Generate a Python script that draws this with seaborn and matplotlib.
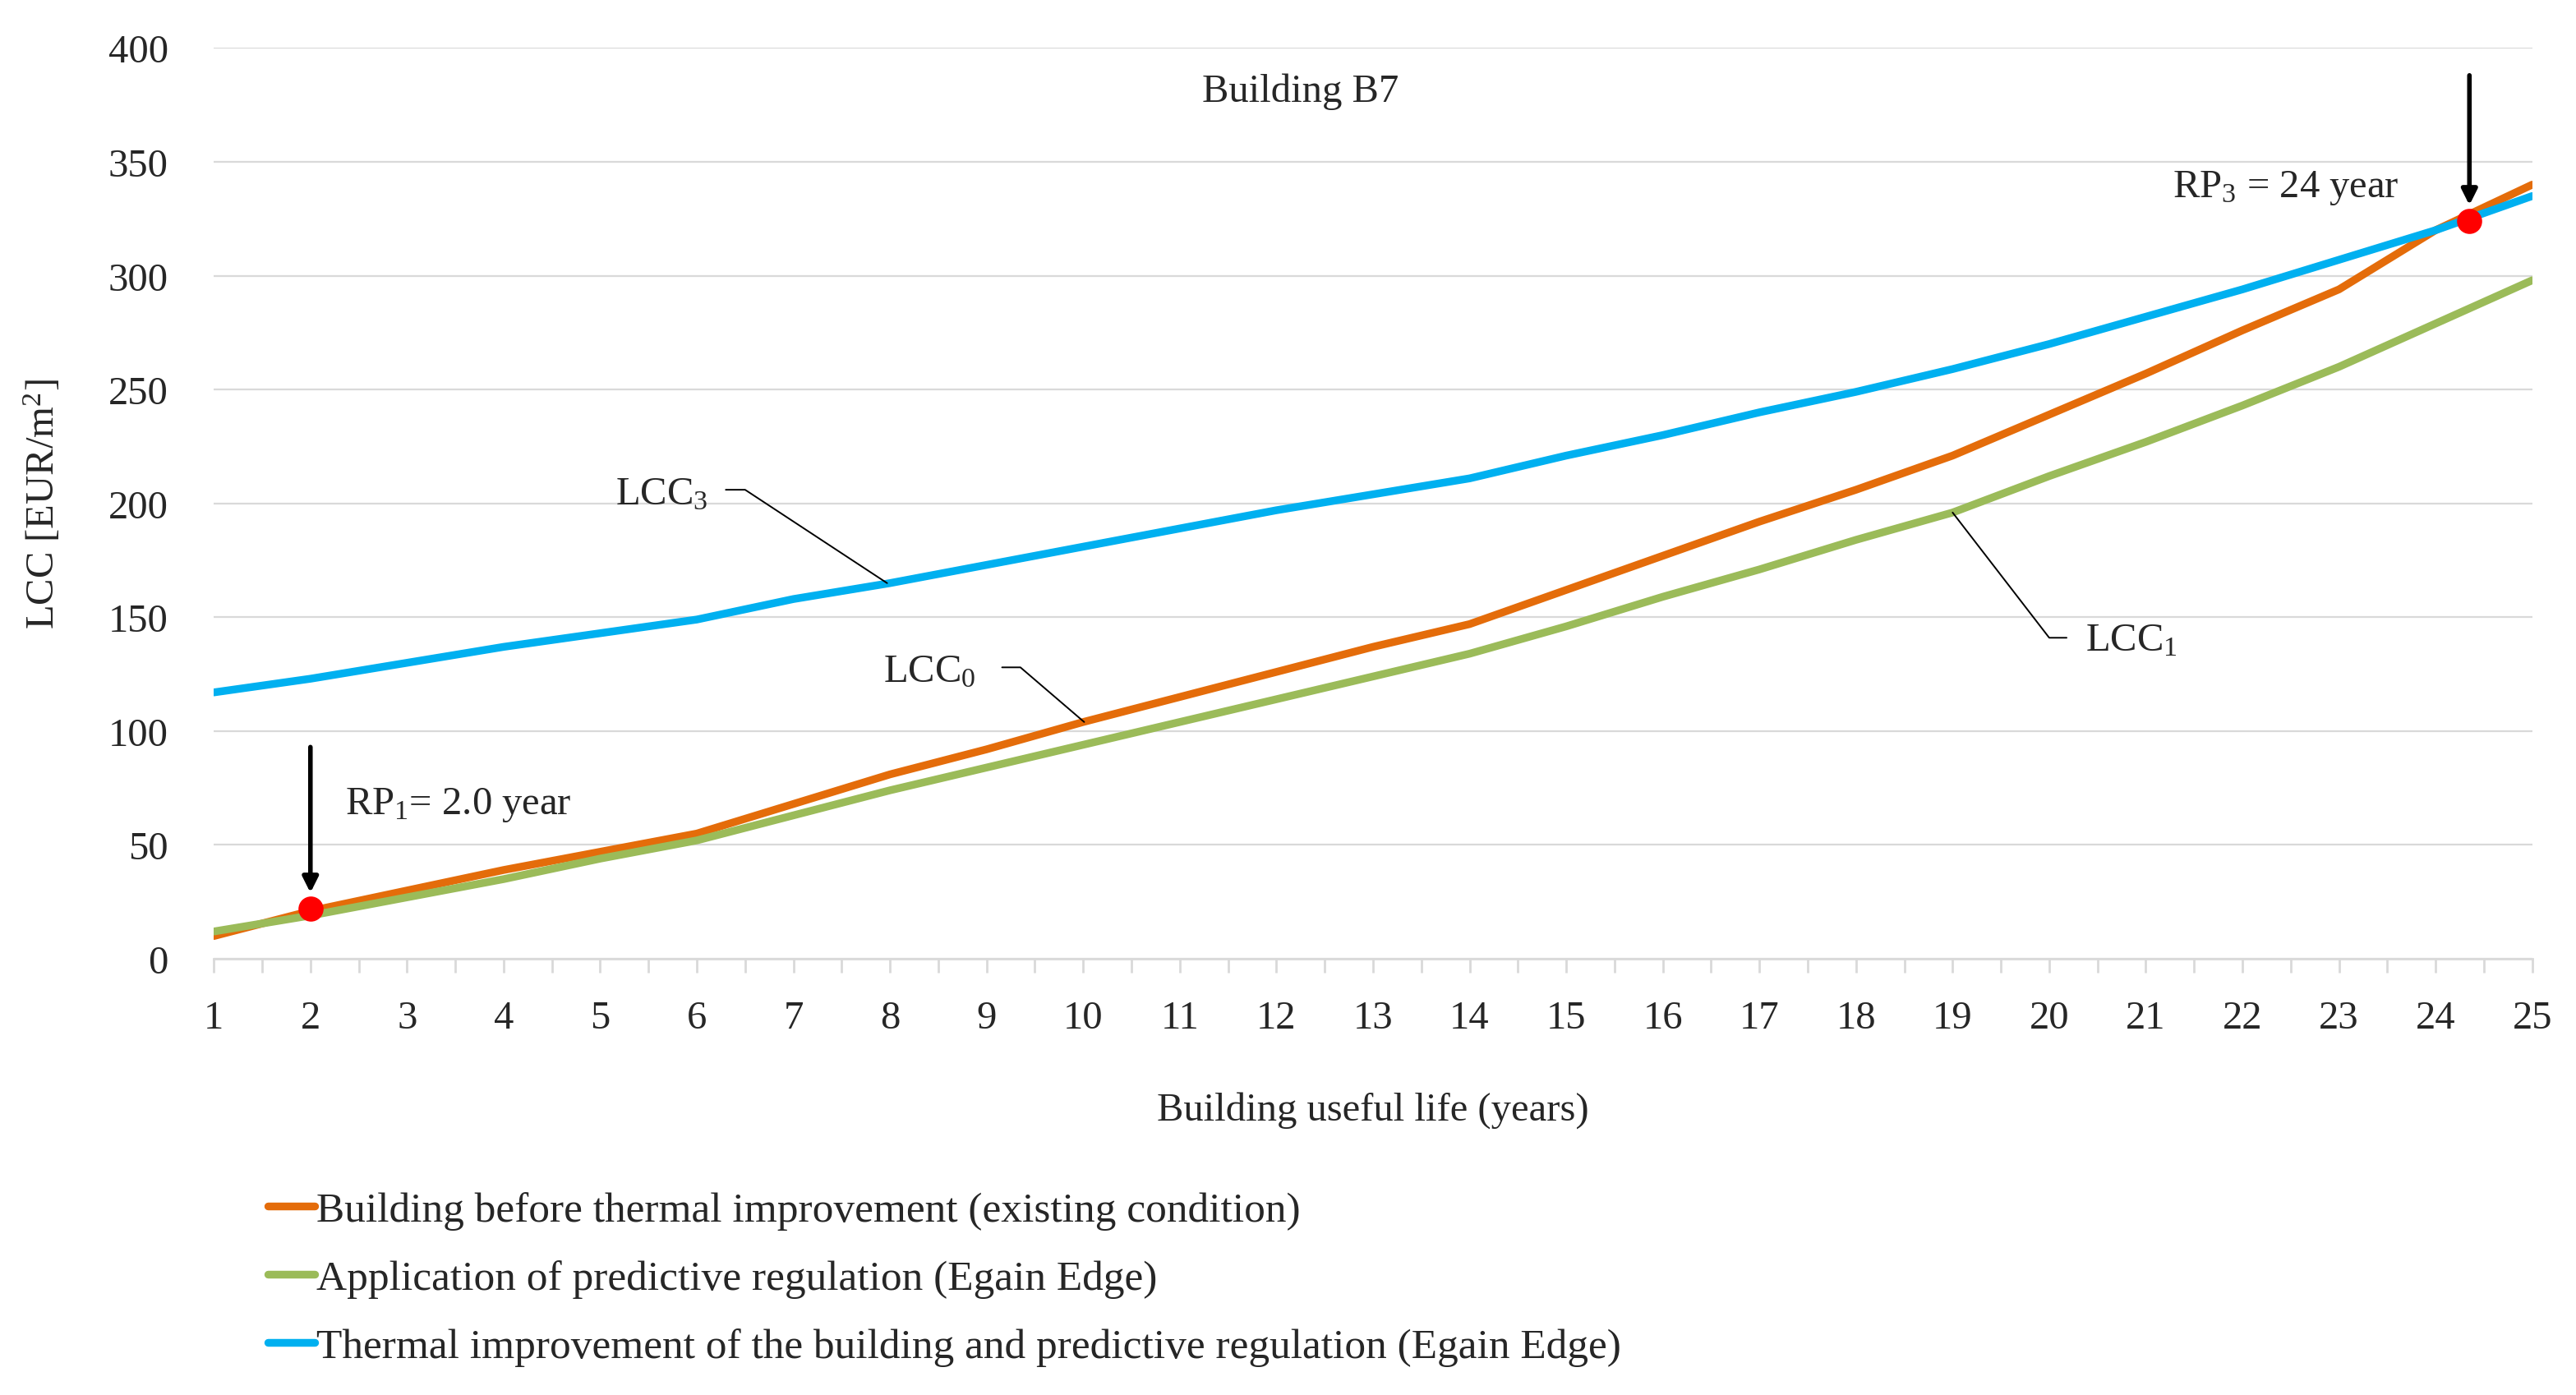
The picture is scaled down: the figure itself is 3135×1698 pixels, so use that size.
import matplotlib
matplotlib.use("Agg")
import matplotlib.pyplot as plt
from matplotlib.ticker import MultipleLocator
import pandas as pd
import seaborn as sns

years = list(range(1, 26))
lcc0 = [10, 21, 30, 39, 47, 55, 68, 81, 92, 104, 115, 126, 137, 147, 162, 177, 192, 206,
        221, 239, 257, 276, 294, 320, 340]
lcc1 = [12, 19, 27, 35, 44, 52, 63, 74, 84, 94, 104, 114, 124, 134, 146, 159, 171, 184,
        196, 212, 227, 243, 260, 279, 298]
lcc3 = [117, 123, 130, 137, 143, 149, 158, 165, 173, 181, 189, 197, 204, 211, 221, 230, 240,
        249, 259, 270, 282, 294, 307, 320, 335]
series_names = [
    "Building before thermal improvement (existing condition)",
    "Application of predictive regulation (Egain Edge)",
    "Thermal improvement of the building and predictive regulation (Egain Edge)",
]
colors = ["#E46C0A", "#9BBB59", "#00B0F0"]
payback_x = [2.0, 24.35]
payback_y = [22, 324]

df = pd.concat(
    [
        pd.DataFrame({"year": years, "lcc": vals, "series": name})
        for name, vals in zip(series_names, [lcc0, lcc1, lcc3])
    ],
    ignore_index=True,
)

sns.set_theme(style="white")
plt.rcParams["font.family"] = ["Liberation Serif", "DejaVu Serif"]
plt.rcParams["mathtext.fontset"] = "custom"
plt.rcParams["mathtext.rm"] = "Liberation Serif"
plt.rcParams["mathtext.it"] = "Liberation Serif:italic"

FS = 17.5

fig = plt.figure(figsize=(15.675, 8.495), dpi=200)
ax = fig.add_axes([0.083, 0.3125, 0.9, 0.6525])

sns.lineplot(data=df, x="year", y="lcc", hue="series", hue_order=series_names,
             palette=colors, linewidth=3.4, ax=ax, legend=False)

ax.set_xlim(1, 25)
ax.set_ylim(0, 400)
ax.xaxis.set_major_locator(MultipleLocator(1))
ax.xaxis.set_minor_locator(MultipleLocator(0.5))
ax.yaxis.set_major_locator(MultipleLocator(50))
ax.grid(axis="y", color="#D9D9D9", linewidth=0.8)
ax.set_axisbelow(True)
for side in ["top", "right", "left"]:
    ax.spines[side].set_visible(False)
ax.spines["bottom"].set_color("#D9D9D9")
ax.spines["bottom"].set_linewidth(1.0)
ax.tick_params(axis="x", which="both", bottom=True, color="#D9D9D9", width=1.0,
               length=6, labelsize=FS, pad=12)
ax.tick_params(axis="y", left=False, labelsize=FS, pad=14)

ax.set_xlabel("Building useful life (years)", fontsize=FS, labelpad=24)
ax.set_ylabel("LCC [EUR/m$^2$]", fontsize=FS, labelpad=20)

ax.scatter(payback_x, payback_y, s=100, color="red", zorder=5)
ax.annotate("", xy=(payback_x[0], payback_y[0] + 5), xytext=(payback_x[0], 95),
            arrowprops=dict(arrowstyle="-|>", color="black", lw=2.0, mutation_scale=14))
ax.annotate("", xy=(payback_x[1], payback_y[1] + 5), xytext=(payback_x[1], 390),
            arrowprops=dict(arrowstyle="-|>", color="black", lw=2.0, mutation_scale=14))

ax.text(12.25, 381, "Building B7", fontsize=FS, ha="center", va="center")
ax.text(2.36, 68, "RP$_1$= 2.0 year", fontsize=FS, ha="left", va="center")
ax.text(22.45, 339, "RP$_3$ = 24 year", fontsize=FS, ha="center", va="center")

ax.text(5.64, 204, "LCC$_3$", fontsize=FS, ha="center", va="center")
ax.plot([6.3, 6.5, 7.97], [206, 206, 165], color="black", linewidth=0.7)
ax.text(8.41, 126, "LCC$_0$", fontsize=FS, ha="center", va="center")
ax.plot([9.16, 9.35, 10.01], [128, 128, 104], color="black", linewidth=0.7)
ax.text(20.85, 140, "LCC$_1$", fontsize=FS, ha="center", va="center")
ax.plot([20.18, 20.0, 19.0], [141, 141, 196], color="black", linewidth=0.7)

handles = [plt.Line2D([], [], color=c, linewidth=3.4) for c in colors]
fig.legend(handles, series_names, loc="upper left", bbox_to_anchor=(0.104, 0.146),
           bbox_transform=fig.transFigure, frameon=False, fontsize=18.5,
           handlelength=1.1, handletextpad=0.05, labelspacing=0.7, borderaxespad=0,
           borderpad=0)

fig.savefig("out.png", dpi=200)
